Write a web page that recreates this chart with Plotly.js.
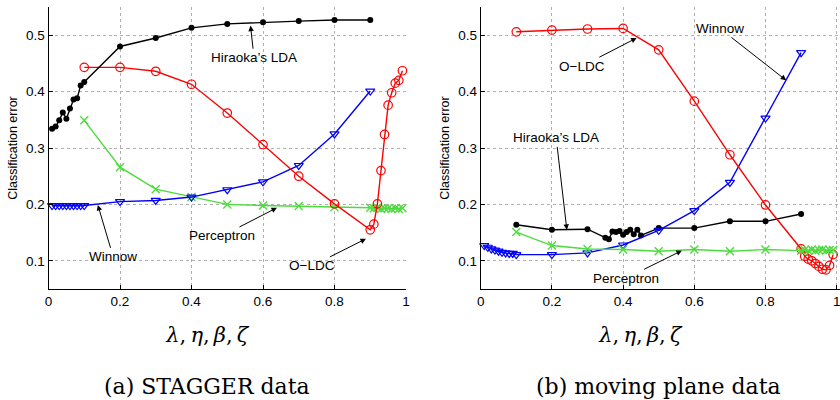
<!DOCTYPE html>
<html>
<head>
<meta charset="utf-8">
<script src="https://cdn.plot.ly/plotly-3.0.1.min.js"></script>
<style>html,body{margin:0;padding:0;background:#fff;}#chart{width:840px;height:400px;}</style>
</head>
<body>
<div id="chart"></div>
<script>
// ---- (a) STAGGER data ----
const aHiraokaX = [0.01,0.02,0.03,0.04,0.05,0.06,0.07,0.08,0.09,0.1,0.2,0.3,0.4,0.5,0.6,0.7,0.8,0.9];
const aHiraokaY = [0.334,0.338,0.349,0.363,0.352,0.370,0.386,0.388,0.411,0.417,0.480,0.495,0.513,0.520,0.523,0.525,0.527,0.527];
const aOldcX = [0.1,0.2,0.3,0.4,0.5,0.6,0.7,0.8,0.9,0.91,0.92,0.93,0.94,0.95,0.96,0.97,0.98,0.99];
const aOldcY = [0.443,0.443,0.436,0.413,0.362,0.306,0.250,0.201,0.155,0.165,0.201,0.260,0.324,0.376,0.398,0.415,0.420,0.437];
const aPercX = [0.1,0.2,0.3,0.4,0.5,0.6,0.7,0.8,0.9,0.91,0.92,0.93,0.94,0.95,0.96,0.97,0.98,0.99];
const aPercY = [0.349,0.266,0.227,0.213,0.200,0.198,0.197,0.195,0.194,0.193,0.194,0.192,0.193,0.193,0.192,0.193,0.192,0.193];
const aWinX = [0.01,0.02,0.03,0.04,0.05,0.06,0.07,0.08,0.09,0.1,0.2,0.3,0.4,0.5,0.6,0.7,0.8,0.9];
const aWinY = [0.198,0.198,0.198,0.198,0.198,0.198,0.198,0.198,0.198,0.198,0.205,0.207,0.213,0.226,0.240,0.269,0.325,0.401];

// ---- (b) moving plane data ----
const bHiraokaX = [0.1,0.2,0.3,0.35,0.36,0.37,0.38,0.39,0.4,0.41,0.42,0.43,0.44,0.45,0.5,0.6,0.7,0.8,0.9];
const bHiraokaY = [0.164,0.155,0.156,0.141,0.138,0.152,0.151,0.153,0.146,0.151,0.155,0.147,0.155,0.145,0.158,0.158,0.170,0.170,0.183];
const bOldcX = [0.1,0.2,0.3,0.4,0.5,0.6,0.7,0.8,0.9,0.91,0.92,0.93,0.94,0.95,0.96,0.97,0.98,0.99];
const bOldcY = [0.506,0.509,0.511,0.512,0.474,0.383,0.288,0.199,0.121,0.108,0.103,0.100,0.095,0.090,0.085,0.084,0.092,0.111];
const bPercX = [0.1,0.2,0.3,0.4,0.5,0.6,0.7,0.8,0.9,0.91,0.92,0.93,0.94,0.95,0.96,0.97,0.98,0.99];
const bPercY = [0.151,0.127,0.121,0.120,0.117,0.120,0.117,0.120,0.118,0.119,0.118,0.120,0.118,0.119,0.120,0.118,0.119,0.119];
const bWinX = [0.01,0.02,0.03,0.04,0.05,0.06,0.07,0.08,0.09,0.1,0.2,0.3,0.4,0.5,0.6,0.7,0.8,0.9];
const bWinY = [0.127,0.124,0.121,0.119,0.117,0.115,0.114,0.113,0.113,0.111,0.111,0.114,0.128,0.154,0.189,0.239,0.353,0.469];

const xTicks = [0,0.2,0.4,0.6,0.8,1];
const xTickText = ['0','0.2','0.4','0.6','0.8','1'];
const yTicks = [0.1,0.2,0.3,0.4,0.5];
const yTickText = ['0.1','0.2','0.3','0.4','0.5'];

const NB = '\u00a0';
const xTitle = '<i>λ</i>,\u2009<i>η</i>,\u2009<i>β</i>,\u2009<i>ζ</i>' + NB.repeat(6) + '\u200b';
const yTitle = 'Classification error';
const captions = ['(a) STAGGER data', '(b) moving plane data'];

const RED = '#ff0000', BLUE = '#0000ff', GREEN = '#4cdc3c', BLACK = '#000000';

function tr(x, y, color, symbol, size, ax, ay, mlw) {
  return {x: x, y: y, xaxis: ax, yaxis: ay, type: 'scatter', mode: 'lines+markers',
    cliponaxis: false, showlegend: false, hoverinfo: 'skip',
    line: {color: color, width: 1.4},
    marker: {symbol: symbol, size: size, color: color, line: {color: color, width: mlw}}};
}

const data = [
  tr(aPercX, aPercY, GREEN, 'x-thin-open', 8, 'x', 'y', 1.4),
  tr(aWinX, aWinY, BLUE, 'triangle-down-open', 8, 'x', 'y', 1.2),
  tr(aOldcX, aOldcY, RED, 'circle-open', 8.5, 'x', 'y', 1.2),
  tr(aHiraokaX, aHiraokaY, BLACK, 'circle', 6, 'x', 'y', 0),
  tr(bHiraokaX, bHiraokaY, BLACK, 'circle', 6, 'x2', 'y2', 0),
  tr(bWinX, bWinY, BLUE, 'triangle-down-open', 8, 'x2', 'y2', 1.2),
  tr(bOldcX, bOldcY, RED, 'circle-open', 8.5, 'x2', 'y2', 1.2),
  tr(bPercX, bPercY, GREEN, 'x-thin-open', 8, 'x2', 'y2', 1.4)
];

const FONT = "'Liberation Sans', Arial, Helvetica, sans-serif";
const SERIF = "'DejaVu Serif', 'Liberation Serif', serif";

function xax(domain, range, anchor) {
  return {domain: domain, anchor: anchor, range: range, tickvals: xTicks, ticktext: xTickText,
    showgrid: true, gridcolor: '#b0b0b0', griddash: 'dot', gridwidth: 1,
    showline: true, linecolor: '#000', linewidth: 1, ticks: 'inside', ticklen: 4, tickcolor: '#000',
    zeroline: false, tickfont: {family: FONT, size: 13.5, color: '#000'},
    ticklabeloverflow: 'allow',
    title: {text: xTitle, font: {family: SERIF, size: 21, color: '#000'}, standoff: 19},
    automargin: false};
}
function yax(anchor) {
  return {domain: [0, 1], anchor: anchor, range: [0.05, 0.55], tickvals: yTicks, ticktext: yTickText,
    showgrid: true, gridcolor: '#b0b0b0', griddash: 'dot', gridwidth: 1,
    showline: true, linecolor: '#000', linewidth: 1, ticks: 'inside', ticklen: 4, tickcolor: '#000',
    zeroline: false, tickfont: {family: FONT, size: 13.5, color: '#000'},
    title: {text: yTitle, font: {family: FONT, size: 12.5, color: '#000'}, standoff: 5},
    automargin: false};
}

function ann(xref, yref, hx, hy, tx, ty, text) {
  return {xref: xref, yref: yref, axref: xref, ayref: yref, x: hx, y: hy, ax: tx, ay: ty,
    text: text, showarrow: true, arrowhead: 2, arrowsize: 1.1, arrowwidth: 1, arrowcolor: '#000',
    font: {family: FONT, size: 13.5, color: '#000'}, standoff: 0, startstandoff: 0};
}

const annotations = [
  ann('x', 'y', 0.565, 0.517, 0.575, 0.460, "Hiraoka’s LDA"),
  ann('x', 'y', 0.138, 0.199, 0.181, 0.107, 'Winnow'),
  ann('x', 'y', 0.639, 0.194, 0.485, 0.144, 'Perceptron'),
  ann('x', 'y', 0.888, 0.139, 0.737, 0.091, 'O−LDC'),
  ann('x2', 'y2', 0.438, 0.495, 0.284, 0.445, 'O−LDC'),
  ann('x2', 'y2', 0.858, 0.420, 0.672, 0.512, 'Winnow'),
  ann('x2', 'y2', 0.242, 0.155, 0.212, 0.318, "Hiraoka’s LDA"),
  ann('x2', 'y2', 0.565, 0.118, 0.408, 0.069, 'Perceptron'),
  {xref: 'paper', yref: 'paper', x: 207/840, y: -97/282, xanchor: 'center', yanchor: 'middle',
   text: captions[0], showarrow: false, font: {family: SERIF, size: 22, color: '#000'}},
  {xref: 'paper', yref: 'paper', x: 658/840, y: -97/282, xanchor: 'center', yanchor: 'middle',
   text: captions[1], showarrow: false, font: {family: SERIF, size: 22, color: '#000'}}
];

const layout = {
  width: 840, height: 400,
  margin: {l: 0, r: 0, t: 7, b: 111},
  paper_bgcolor: '#fff', plot_bgcolor: '#fff',
  showlegend: false,
  xaxis: xax([48.5/840, 406/840], [0, 1], 'y'),
  yaxis: yax('x'),
  xaxis2: xax([480.7/840, 1], [0, 359.3/356], 'y2'),
  yaxis2: yax('x2'),
  annotations: annotations
};

Plotly.newPlot('chart', data, layout, {displayModeBar: false, staticPlot: true});
</script>
</body>
</html>
